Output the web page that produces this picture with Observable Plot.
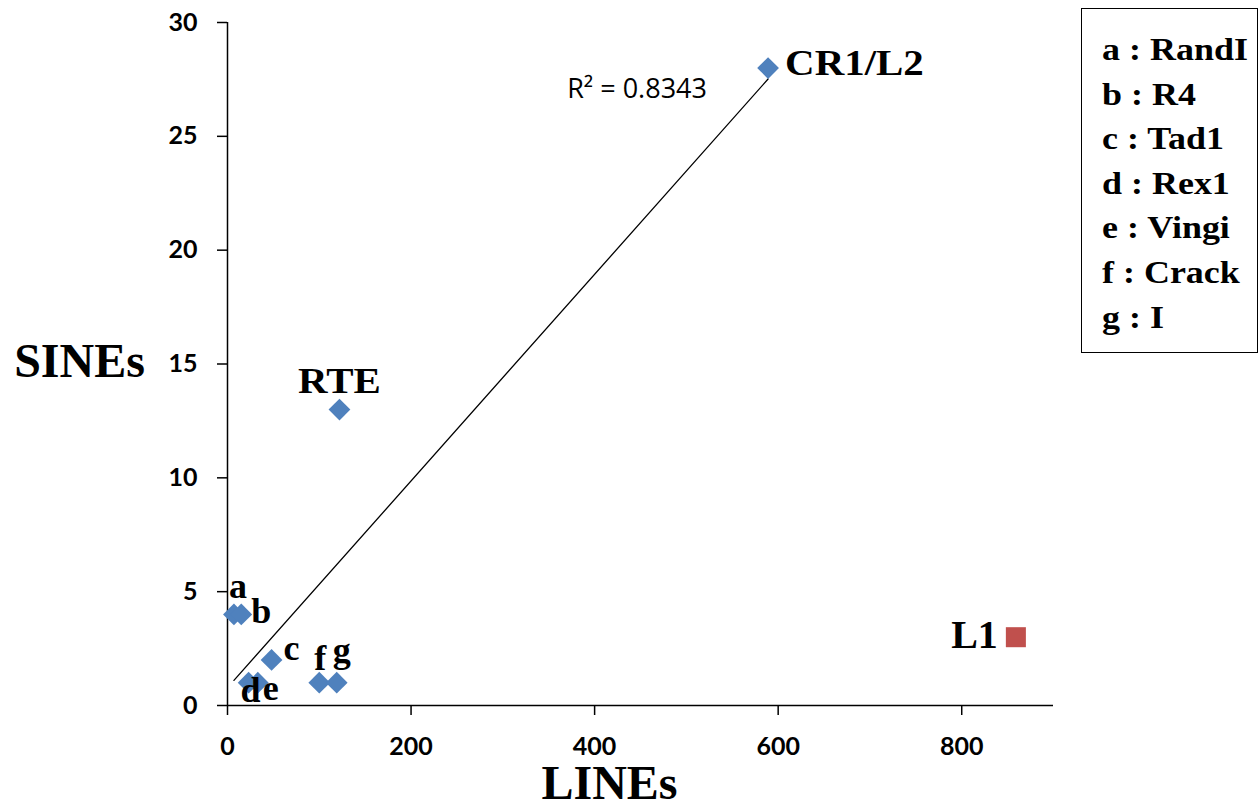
<!DOCTYPE html>
<html><head><meta charset="utf-8">
<script src="https://cdn.jsdelivr.net/npm/d3@7"></script>
<script src="https://cdn.jsdelivr.net/npm/@observablehq/plot@0.6"></script>
<style>
body{margin:0;background:#fff;}
#wrap{position:relative;width:1259px;height:811px;}
#legend{position:absolute;left:1081px;top:8px;width:177px;height:345px;border:1.5px solid #000;box-sizing:border-box;
 font-family:"Liberation Serif",serif;font-weight:bold;font-size:31px;line-height:44.6px;padding-left:20px;padding-top:19px;color:#000;}
#legend div{transform:scaleX(1.16);transform-origin:left center;white-space:nowrap;}
svg text{font-weight:bold;}
</style></head><body>
<div id="wrap"><div id="legend"></div></div>
<script>
// Blue series (diamonds)
const names = ["a","b","c","d","e","f","g","RTE","CR1/L2"];
const lines = [7,15,48,23,33,100,119,122,589];
const sines = [4,4,2,1,1,1,1,13,28];
// Outlier series (square)
const outNames = ["L1"];
const outLines = [859];
const outSines = [3];
// Axis ticks and titles
const xTicks = [0,200,400,600,800];
const yTicks = [0,5,10,15,20,25,30];
const xTitle = ["LINEs"];
const yTitle = ["SINEs"];
const trendLabel = ["R² = 0.8343"];
// Legend
const legendKeys = ["a","b","c","d","e","f","g"];
const legendNames = ["RandI","R4","Tad1","Rex1","Vingi","Crack","I"];

const blue = names.map((n,i)=>({name:n, x:lines[i], y:sines[i]}));
const red = outNames.map((n,i)=>({name:n, x:outLines[i], y:outSines[i]}));

const serif = "Liberation Serif";
const lab = (n, dx, dy, extra={}) => Plot.text(blue.filter(d=>d.name===n), {x:"x", y:"y", text:"name", dx, dy,
  fontFamily:serif, fontWeight:"bold", fontSize:36, fill:"black", textAnchor:"middle", lineAnchor:"middle", ...extra});

const chart = Plot.plot({
  width:1259, height:811,
  marginLeft:227, marginRight:206, marginTop:22, marginBottom:106,
  x:{domain:[0,900]},
  y:{domain:[0,30]},
  style:{fontFamily:"Lato", background:"white", color:"black"},
  marks:[
    Plot.axisX({ticks:xTicks, tickSize:10, tickPadding:22, fontSize:25, fontWeight:"bold", label:null, strokeWidth:1.5, tickFormat:d=>d}),
    Plot.axisY({ticks:yTicks, tickSize:10, tickPadding:20, fontSize:25, fontWeight:"bold", label:null, strokeWidth:1.5, tickFormat:d=>d}),
    Plot.ruleY([0], {stroke:"black", strokeWidth:1.5}),
    Plot.ruleX([0], {stroke:"black", strokeWidth:1.5}),
    Plot.linearRegressionY(blue, {x:"x", y:"y", stroke:"black", strokeWidth:1.3, ci:0}),
    Plot.dot(blue, {x:"x", y:"y", symbol:"diamond2", r:9.8, fill:"#4F81BD", stroke:"none"}),
    Plot.dot(red, {x:"x", y:"y", symbol:"square", r:11.3, fill:"#C0504D", stroke:"none"}),
    lab("a", 4, -28),
    lab("b", 20, -3),
    lab("c", 20, -11),
    lab("d", 2, 8),
    lab("e", 13, 6),
    lab("f", 1, -24),
    lab("g", 5, -32),
    lab("RTE", 0, -28, {fontSize:35}),
    lab("CR1/L2", 17, -4, {fontSize:35, textAnchor:"start"}),
    Plot.text(red, {x:"x", y:"y", text:"name", dx:-18, dy:-2, fontFamily:serif, fontWeight:"bold", fontSize:40, fill:"black", textAnchor:"end", lineAnchor:"middle"}),
    Plot.text(blue.filter(d=>d.name==="CR1/L2"), {x:"x", y:"y", text:()=>trendLabel[0], dx:-131, dy:21, fontFamily:"Open Sans", fontWeight:"normal", fontSize:27, fill:"black", textAnchor:"middle", lineAnchor:"middle"}),
    Plot.text(yTitle, {frameAnchor:"left", dx:-148, dy:-2, fontFamily:serif, fontWeight:"bold", fontSize:48, fill:"black", textAnchor:"middle", lineAnchor:"middle"}),
    Plot.text(xTitle, {frameAnchor:"bottom", dx:-31, dy:78, fontFamily:serif, fontWeight:"bold", fontSize:48, fill:"black", textAnchor:"middle", lineAnchor:"middle"})
  ]
});
const bigLabels = new Set(["RTE","CR1/L2"]);
chart.querySelectorAll("text").forEach(t=>{
  const s = t.textContent;
  if (s.startsWith("R²")) t.style.fontWeight = "normal";
  const tr = t.getAttribute("transform") || "";
  if (bigLabels.has(s)) t.setAttribute("transform", tr + " scale(1.17,1)");
});
document.getElementById("wrap").prepend(chart);
document.getElementById("legend").innerHTML = legendKeys.map((k,i)=>`<div>${k} : ${legendNames[i]}</div>`).join("");
</script>
</body></html>
